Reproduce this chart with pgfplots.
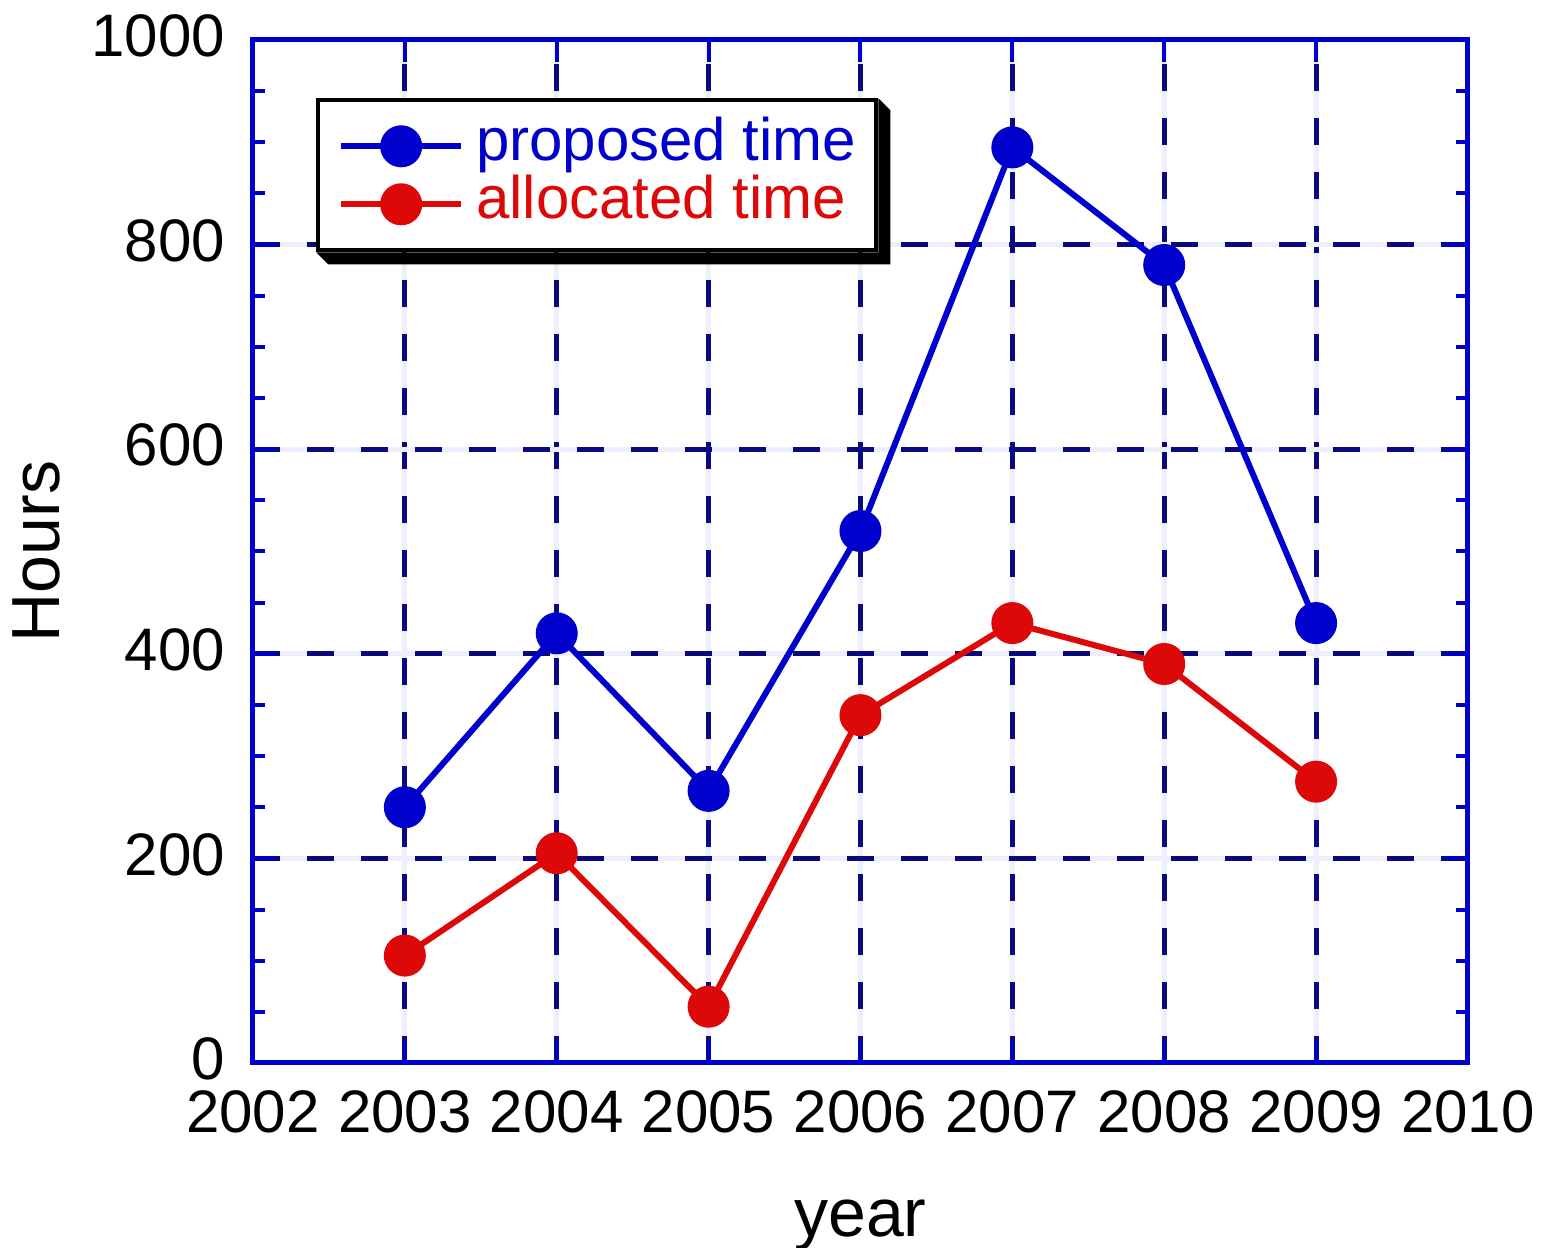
\documentclass[border=0pt]{standalone}
\usepackage{pgfplots}
\pgfplotsset{compat=1.18}
\usepackage{fontspec}
\setmainfont{Liberation Sans}

\definecolor{axblue}{RGB}{0,0,204}
\definecolor{gridnavy}{RGB}{10,10,128}
\definecolor{gridlav}{RGB}{238,238,255}
\definecolor{datablue}{RGB}{0,0,204}
\definecolor{datared}{RGB}{221,8,8}

\begin{document}
\begin{tikzpicture}
  % page = 1546 x 1248 px at 0.25pt per px; axis box lower left at (0,0)
  \useasboundingbox (-63.25pt,-46.25pt) rectangle (323.25pt,265.75pt);
  \begin{axis}[
      scale only axis,
      width=303.75pt, height=255.75pt,
      xmin=2002, xmax=2010, ymin=0, ymax=1000,
      xtick={2002,2003,...,2010},
      ytick={0,200,...,1000},
      minor x tick num=4,
      minor y tick num=3,
      tick align=inside,
      major tick length=5.5pt,
      minor tick length=3pt,
      axis line style={draw=axblue, line width=1.25pt},
      every tick/.style={draw=axblue, line width=1pt},
      grid=major,
      major grid style={draw=gridlav, line width=1.25pt,
        postaction={draw=gridnavy, line width=1.25pt, dash pattern=on 6.75pt off 6.75pt}},
      /pgf/number format/1000 sep={},
      /pgf/number format/assume math mode=true,
      tick label style={font=\fontsize{15}{18}\selectfont},
      xticklabel style={yshift=-3.25pt},
      yticklabel style={xshift=-3.5pt, yshift=1pt},
      label style={font=\fontsize{17}{20}\selectfont},
      xlabel={year},
      ylabel={Hours},
      xlabel style={yshift=-10pt},
      ylabel style={yshift=1pt},
      legend cell align=left,
      legend style={
        name=leg,
        at={(0.052,0.943)}, anchor=north west,
        draw=black, line width=1pt, fill=white,
        inner xsep=5pt, inner ysep=4.5pt,
        row sep=0.5pt,
        font=\fontsize{15}{17}\selectfont,
        nodes={inner sep=0pt, text height=10.5pt, text depth=3.5pt},
        /tikz/every odd column/.append style={column sep=3pt},
      },
      legend image code/.code={%
        \draw[mark repeat=2, mark phase=2, #1]
          plot coordinates {(0pt,0pt) (15pt,0pt) (30pt,0pt)};},
    ]
    \addplot[color=datablue, line width=1.5pt, mark=*, mark size=4.5pt,
             mark options={solid, fill=datablue}]
      coordinates {
        (2003,250) (2004,420) (2005,266) (2006,520)
        (2007,895) (2008,780) (2009,430)
      };
    \addlegendentry{\textcolor{datablue}{proposed time}}
    \addplot[color=datared, line width=1.5pt, mark=*, mark size=4.5pt,
             mark options={solid, fill=datared}]
      coordinates {
        (2003,105) (2004,205) (2005,55) (2006,340)
        (2007,430) (2008,390) (2009,275)
      };
    \addlegendentry{\textcolor{datared}{allocated time}}
  \end{axis}
  % 3D shadow of the legend box
  \fill[black] (leg.north east) -- ++(3pt,-3pt) -- ([shift={(3pt,-3pt)}]leg.south east)
    -- ([shift={(3pt,-3pt)}]leg.south west) -- (leg.south west) -- (leg.south east) -- cycle;
\end{tikzpicture}
\end{document}
